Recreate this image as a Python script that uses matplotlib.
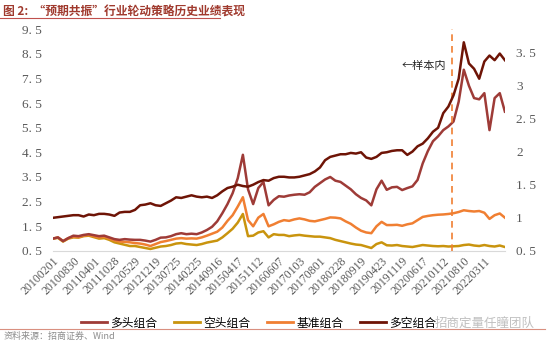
import numpy as np
import matplotlib
matplotlib.use("Agg")
import matplotlib.pyplot as plt
from matplotlib.lines import Line2D

plt.rcParams['font.family'] = ['Liberation Serif', 'Noto Sans CJK SC', 'DejaVu Sans']

tick_labels = ["20100201", "20100830", "20110401", "20111028", "20120529", "20121219",
               "20130725", "20140225", "20140916", "20150417", "20151112", "20160607",
               "20170103", "20170801", "20180228", "20180919", "20190423", "20191119",
               "20200617", "20210112", "20210810", "20220311"]

series_names = ["多头组合", "空头组合", "基准组合", "多空组合"]

long_vals = [1.00, 1.05, 0.90, 1.02, 1.12, 1.10, 1.15, 1.18, 1.14, 1.10,
             1.12, 1.05, 0.98, 0.95, 0.98, 0.96, 0.95, 0.95, 0.92, 0.88,
             0.95, 1.04, 1.05, 1.10, 1.18, 1.22, 1.18, 1.20, 1.18, 1.25,
             1.35, 1.48, 1.70, 2.03, 2.40, 2.84, 3.45, 4.40, 3.00, 2.40,
             3.05, 3.30, 2.35, 2.57, 2.72, 2.70, 2.75, 2.78, 2.80, 2.78,
             2.88, 3.10, 3.25, 3.40, 3.50, 3.35, 3.30, 3.15, 3.00, 2.80,
             2.65, 2.55, 2.35, 3.00, 3.35, 2.98, 3.08, 3.10, 2.97, 3.05,
             3.12, 3.38, 4.05, 4.55, 4.95, 5.15, 5.40, 5.55, 5.75, 6.55,
             7.85, 7.20, 6.70, 6.65, 6.90, 5.40, 6.70, 6.90, 6.15]

short_vals = [1.00, 1.03, 0.88, 1.00, 1.05, 1.04, 1.10, 1.12, 1.06, 1.00,
              1.02, 0.95, 0.85, 0.80, 0.75, 0.70, 0.70, 0.66, 0.62, 0.58,
              0.63, 0.68, 0.70, 0.74, 0.80, 0.82, 0.78, 0.76, 0.74, 0.78,
              0.84, 0.88, 0.92, 1.05, 1.22, 1.40, 1.65, 2.00, 1.10, 1.12,
              1.25, 1.30, 1.05, 1.18, 1.15, 1.15, 1.10, 1.13, 1.15, 1.12,
              1.10, 1.08, 1.08, 1.05, 1.02, 0.95, 0.90, 0.85, 0.80, 0.76,
              0.74, 0.68, 0.62, 0.78, 0.85, 0.73, 0.72, 0.74, 0.70, 0.68,
              0.66, 0.70, 0.74, 0.72, 0.70, 0.69, 0.70, 0.68, 0.69, 0.70,
              0.74, 0.76, 0.72, 0.70, 0.74, 0.70, 0.68, 0.72, 0.66]

bench_vals = [1.00, 1.05, 0.90, 1.02, 1.08, 1.06, 1.12, 1.15, 1.10, 1.05,
              1.08, 1.00, 0.93, 0.88, 0.87, 0.85, 0.82, 0.80, 0.76, 0.70,
              0.78, 0.86, 0.90, 0.95, 1.00, 1.02, 1.00, 1.01, 1.00, 1.05,
              1.12, 1.20, 1.28, 1.45, 1.72, 1.95, 2.30, 2.68, 1.75, 1.50,
              1.85, 2.00, 1.50, 1.58, 1.68, 1.75, 1.72, 1.78, 1.82, 1.78,
              1.72, 1.70, 1.75, 1.80, 1.86, 1.85, 1.82, 1.70, 1.60, 1.45,
              1.32, 1.25, 1.22, 1.50, 1.68, 1.55, 1.55, 1.56, 1.52, 1.58,
              1.62, 1.75, 1.88, 1.92, 1.95, 1.97, 1.98, 2.00, 2.03, 2.08,
              2.15, 2.12, 2.10, 2.12, 2.05, 1.80, 1.95, 2.02, 1.85]

ls_vals = [1.00, 1.01, 1.02, 1.03, 1.04, 1.04, 1.02, 1.05, 1.04, 1.06,
           1.06, 1.05, 1.03, 1.08, 1.09, 1.09, 1.12, 1.19, 1.20, 1.22,
           1.19, 1.18, 1.22, 1.26, 1.31, 1.30, 1.32, 1.34, 1.32, 1.31,
           1.32, 1.30, 1.34, 1.40, 1.45, 1.47, 1.50, 1.48, 1.47, 1.50,
           1.54, 1.57, 1.56, 1.60, 1.62, 1.62, 1.61, 1.61, 1.62, 1.64,
           1.66, 1.70, 1.76, 1.87, 1.92, 1.94, 1.96, 1.96, 1.98, 1.97,
           1.99, 1.91, 1.89, 1.92, 1.98, 1.99, 2.01, 2.02, 2.02, 1.95,
           2.00, 2.08, 2.12, 2.20, 2.30, 2.36, 2.58, 2.68, 2.85, 3.10,
           3.65, 3.33, 3.25, 3.10, 3.36, 3.45, 3.38, 3.48, 3.38]

split_pos = 19.45  # in-sample / out-of-sample boundary (in tick-interval units)

c_long = "#9E3B37"
c_short = "#C9940E"
c_bench = "#F07F32"
c_ls = "#6E1406"

x = np.arange(len(long_vals)) / 4.0

fig = plt.figure(figsize=(5.5, 3.5), dpi=100)
ax = fig.add_axes([0.096, 0.283, 0.822, 0.634])
ax2 = ax.twinx()

ax.plot(x, short_vals, color=c_short, lw=1.8)
ax.plot(x, bench_vals, color=c_bench, lw=1.8)
ax.plot(x, long_vals, color=c_long, lw=1.8)
ax2.plot(x, ls_vals, color=c_ls, lw=1.8)
ax.axvline(split_pos, color=c_bench, lw=1.2, ls=(0, (4, 3)))

ax.set_xlim(0, 22)
ax.set_ylim(0.5, 9.5)
ax2.set_ylim(0.5, 3.85)
ax.set_yticks(np.arange(0.5, 9.6, 1.0))
ax.set_yticklabels([f"{v:.1f}".replace(".", ". ") for v in np.arange(0.5, 9.6, 1.0)])
r_ticks = [0.5, 1, 1.5, 2, 2.5, 3, 3.5]
ax2.set_yticks(r_ticks)
ax2.set_yticklabels([("%g" % v).replace(".", ". ") for v in r_ticks])

ax.set_xticks(np.arange(len(tick_labels)))
ax.set_xticklabels(tick_labels, rotation=45, ha='right', va='top', rotation_mode='anchor')

for a in (ax, ax2):
    for s in a.spines.values():
        s.set_visible(False)
    a.tick_params(length=0, colors="#595959", labelsize=9.5)
ax.tick_params(axis='x', labelsize=8.5, pad=3)
ax.tick_params(axis='y', pad=8)
ax2.tick_params(axis='y', pad=8)
ax.spines['bottom'].set_visible(True)
ax.spines['bottom'].set_color("#D9D9D9")

ax.text(0.772, 0.82, "←样本内", transform=ax.transAxes, fontsize=8,
        family=['Noto Sans CJK SC'], color="#262626")

handles = [Line2D([], [], color=c, lw=2) for c in (c_long, c_short, c_bench, c_ls)]
fig.legend(handles, series_names, loc='center', bbox_to_anchor=(0.47, 0.077), ncol=4,
           frameon=False, prop={'family': 'Noto Sans CJK SC', 'size': 8.5},
           handlelength=2.2, columnspacing=1.4, handletextpad=0.3)

fig.text(0.006, 0.965, "图 2:  “预期共振”行业轮动策略历史业绩表现", fontsize=8.5,
         family=['Noto Sans CJK SC'], fontweight='bold', color="#A03A2E", va='center')
fig.add_artist(Line2D([0, 0.4], [0.948, 0.948], transform=fig.transFigure, color="#C0504D", lw=0.8))
fig.add_artist(Line2D([0, 0.99], [0.06, 0.06], transform=fig.transFigure, color="#D99080", lw=0.8))
fig.text(0.006, 0.038, "资料来源：招商证券、Wind", fontsize=6.5,
         family=['Noto Sans CJK SC'], color="#8C8C8C", va='center')
fig.text(0.79, 0.075, "招商定量任瞳团队", fontsize=9, family=['Noto Sans CJK SC'],
         color="#B0B0B0", alpha=0.8, va='center')

fig.savefig("out.png", dpi=100)
